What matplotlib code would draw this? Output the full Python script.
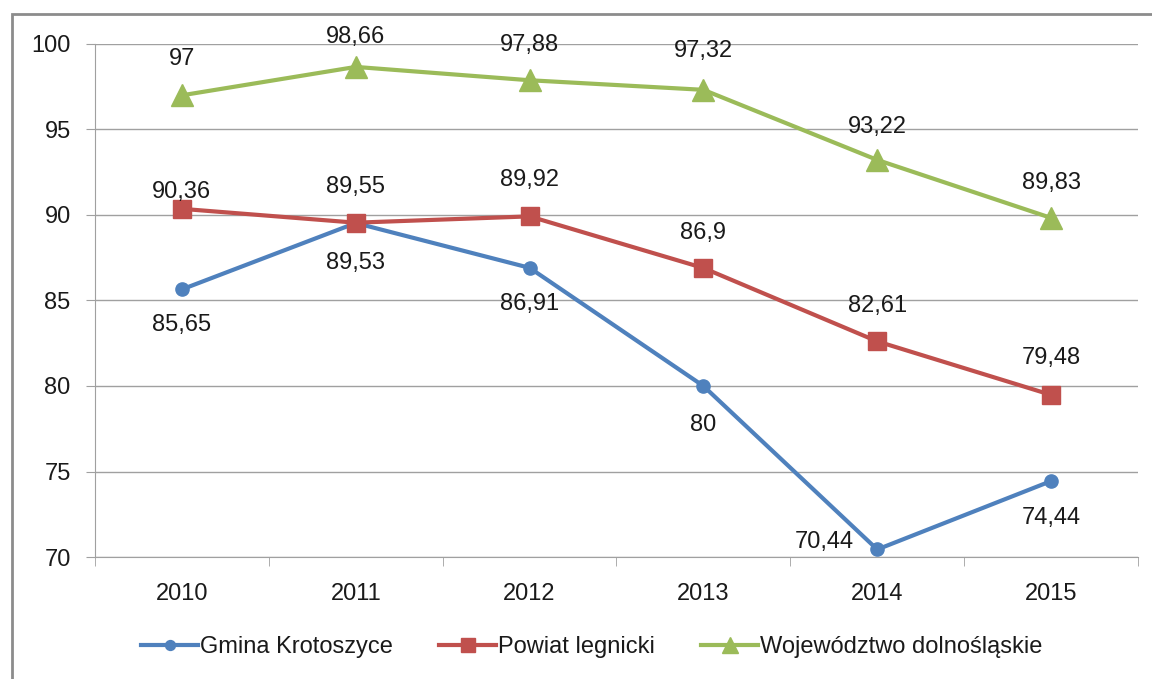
import matplotlib.pyplot as plt
from matplotlib.patches import Rectangle

# Data
years = ["2010", "2011", "2012", "2013", "2014", "2015"]
gmina = [85.65, 89.53, 86.91, 80, 70.44, 74.44]
powiat = [90.36, 89.55, 89.92, 86.9, 82.61, 79.48]
woj = [97, 98.66, 97.88, 97.32, 93.22, 89.83]
names = ["Gmina Krotoszyce", "Powiat legnicki", "Województwo dolnośląskie"]

# label offsets (pixels, label centre relative to marker)
woj_dy = [36, 30, 35, 39, 33, 35]
powiat_dy = [17, 36, 36, 35, 35, 37]
gmina_dy = [-36, -40, -36, -39, 7, -37]
gmina_dx = [0, 0, 0, 0, -53, 0]

plt.rcParams['font.family'] = ['Liberation Sans', 'DejaVu Sans']

fig = plt.figure(figsize=(11.52, 6.79), dpi=100)
fig.patches.append(Rectangle((12 / 1152, -0.1), 1.2, 1 - 14 / 679 + 0.1,
                             transform=fig.transFigure, fill=False,
                             edgecolor='#8c8c8c', linewidth=2))
ax = fig.add_axes([95 / 1152, 1 - 557 / 679, 1043 / 1152, 513 / 679])

x = list(range(len(years)))
blue, red, green = '#4F81BD', '#C0504D', '#9BBB59'
ax.plot(x, gmina, color=blue, lw=3, marker='o', ms=9.5, label=names[0], zorder=3)
ax.plot(x, powiat, color=red, lw=3, marker='s', ms=13, label=names[1], zorder=3)
ax.plot(x, woj, color=green, lw=3, marker='^', ms=16, label=names[2], zorder=3)

def fmt(v):
    return f"{v:g}".replace('.', ',')

fs = 17
tc = '#1a1a1a'
px = 0.72  # pixels -> points at 100 dpi

def label(vals, dys, dxs=None):
    for i, v in enumerate(vals):
        dx = dxs[i] if dxs else 0
        ax.annotate(fmt(v), (i, v), xytext=(dx * px, dys[i] * px),
                    textcoords='offset points', ha='center', va='center',
                    fontsize=fs, color=tc)

label(woj, woj_dy)
label(powiat, powiat_dy)
label(gmina, gmina_dy, gmina_dx)

ax.set_xlim(-0.5, 5.5)
ax.set_ylim(70, 100)
ax.set_yticks(range(70, 101, 5))
ax.set_xticks(x)
ax.set_xticklabels(years)
ax.set_xticks([i + 0.5 for i in range(-1, 6)], minor=True)
ax.tick_params(axis='x', which='major', length=0, pad=19, labelsize=fs,
               labelcolor=tc)
ax.tick_params(axis='x', which='minor', length=6.5, color='#a0a0a0')
ax.tick_params(axis='y', length=6.5, color='#a0a0a0', labelsize=fs, pad=11,
               labelcolor=tc)
ax.grid(axis='y', color='#a0a0a0', lw=1)
ax.set_axisbelow(True)
for s in ['top', 'right']:
    ax.spines[s].set_visible(False)
for s in ['left', 'bottom']:
    ax.spines[s].set_color('#a0a0a0')

fig.legend(loc='center', bbox_to_anchor=(592 / 1152, 1 - 647 / 679), ncol=3,
           frameon=False, fontsize=fs, handlelength=2.4, handletextpad=0.1,
           columnspacing=1.95, markerscale=0.75, labelcolor=tc)

fig.savefig('out.png', dpi=100)
